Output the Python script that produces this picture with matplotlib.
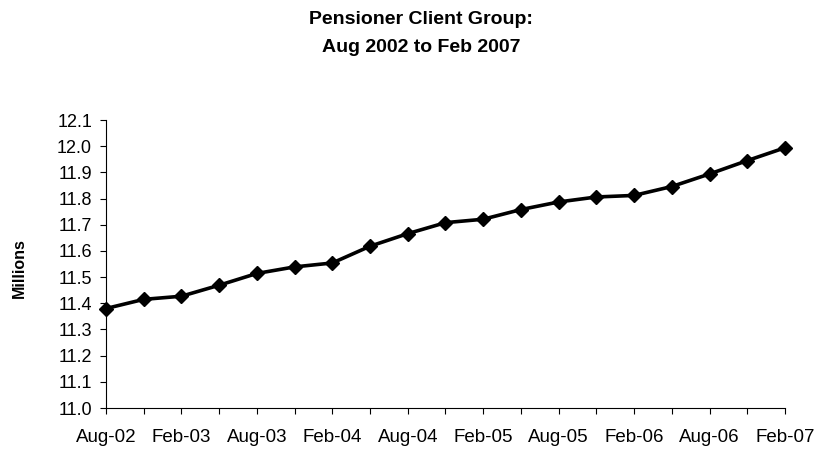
import numpy as np
import matplotlib
matplotlib.use("Agg")
import matplotlib.pyplot as plt
from matplotlib.ticker import FormatStrFormatter

plt.rcParams["font.family"] = ["Liberation Sans", "DejaVu Sans"]

# quarterly observations, Aug-02 .. Feb-07
quarters = ["Aug-02", "Nov-02", "Feb-03", "May-03", "Aug-03", "Nov-03",
            "Feb-04", "May-04", "Aug-04", "Nov-04", "Feb-05", "May-05",
            "Aug-05", "Nov-05", "Feb-06", "May-06", "Aug-06", "Nov-06",
            "Feb-07"]
clients = [11.38, 11.415, 11.427, 11.469, 11.514, 11.539, 11.554, 11.618,
           11.666, 11.708, 11.721, 11.758, 11.787, 11.806, 11.812, 11.846,
           11.894, 11.945, 11.994]
y_ticks = [11.0, 11.1, 11.2, 11.3, 11.4, 11.5, 11.6, 11.7, 11.8, 11.9,
           12.0, 12.1]

fig = plt.figure(figsize=(8.25, 4.5), dpi=100)
ax = fig.add_axes([0.1285, 0.0933, 0.823, 0.64])

x = np.arange(len(quarters))
ax.plot(x, clients, color="black", lw=2.6, marker="D", ms=7,
        markerfacecolor="black", markeredgecolor="black", clip_on=False)

ax.set_xlim(0, len(quarters) - 1)
ax.set_ylim(11.0, 12.1)
ax.set_yticks(y_ticks)
ax.yaxis.set_major_formatter(FormatStrFormatter("%.1f"))

ax.set_xticks(x[::2])
ax.set_xticklabels(quarters[::2])
ax.set_xticks(x, minor=True)
ax.tick_params(axis="x", which="both", direction="out", length=4,
               width=0.8, labelsize=13.5, pad=11)
ax.tick_params(axis="y", direction="out", length=4, width=0.8,
               labelsize=13, pad=6)

for s in ("top", "right"):
    ax.spines[s].set_visible(False)
for s in ("left", "bottom"):
    ax.spines[s].set_linewidth(0.8)

fig.text(0.024, 0.404, "Millions", rotation=90, ha="center", va="center",
         fontsize=11.5, fontweight="bold")
fig.text(0.51, 0.975, "Pensioner Client Group:\nAug 2002 to Feb 2007",
         ha="center", va="top", fontsize=14, fontweight="bold",
         linespacing=1.85)

fig.savefig("out.png", dpi=100)
